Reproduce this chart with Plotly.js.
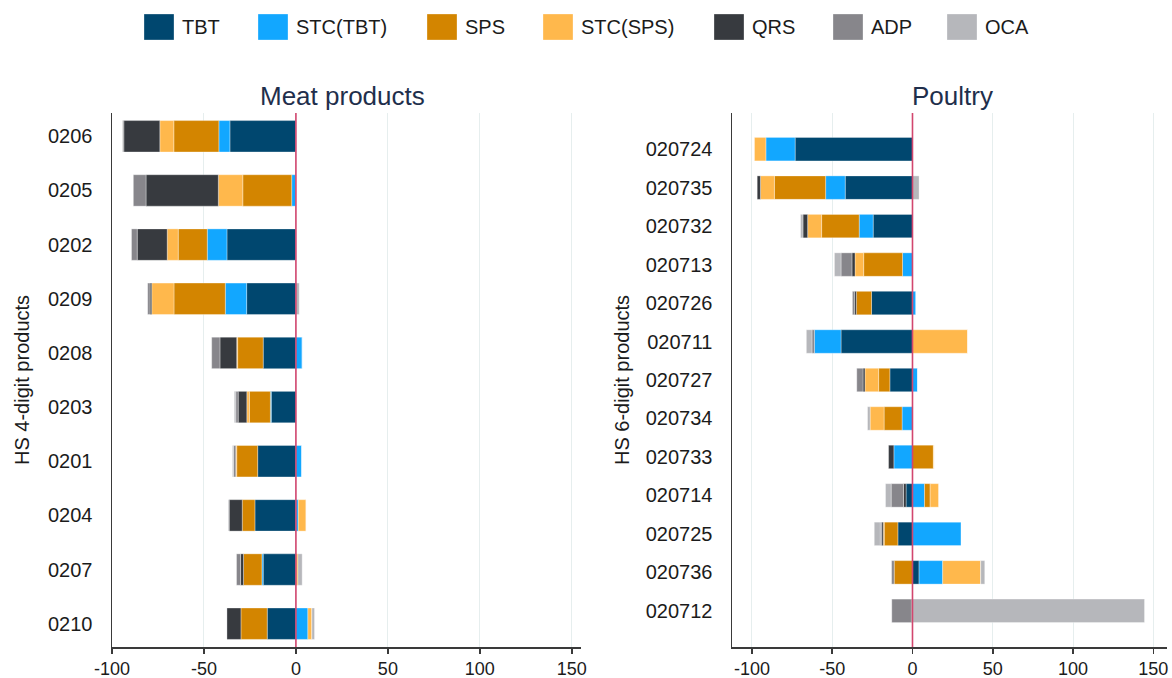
<!DOCTYPE html>
<html>
<head>
<meta charset="utf-8">
<script src="https://cdn.plot.ly/plotly-3.0.1.min.js"></script>
<style>
  html, body { margin: 0; padding: 0; background: #fff; }
  #chart { width: 1172px; height: 678px; }
</style>
</head>
<body>
<div id="chart"></div>
<script>
"use strict";

// measure names, in stacking order (outward from zero)
var series = ['TBT', 'STC(TBT)', 'SPS', 'STC(SPS)', 'QRS', 'ADP', 'OCA'];
var colors = ['#00476f', '#12a7ff', '#d38500', '#ffb84c', '#373a3f', '#87868b', '#b6b7bb'];

// left panel: HS 4-digit meat products
var meatProducts = ['0206', '0205', '0202', '0209', '0208', '0203', '0201', '0204', '0207', '0210'];
var meatTBT    = [-35.9, 0, -37.5, -26.8, -17.8, -13.4, -20.8, -22.3, -17.8, -15.6];
var meatSTCTBT = [-6.0, -2.3, -10.7, -11.6, 3.4, -0.5, 3.1, 1.3, -0.7, 6.5];
var meatSPS    = [-24.5, -26.6, -15.8, -27.9, -13.9, -11.4, -11.4, -6.9, -10.0, -14.3];
var meatSTCSPS = [-7.6, -13.3, -6.0, -12.1, -0.5, -1.4, -0.5, 4.2, 1.1, 2.2];
var meatQRS    = [-19.6, -39.3, -16.3, -0.9, -9.1, -4.7, 0, -7.1, -1.6, -7.6];
var meatADP    = [-0.6, -6.9, -3.1, -1.3, -4.5, -1.3, -1.2, 0, -2.2, 0];
var meatOCA    = [0, 0, 0, 1.8, 0, -0.8, -0.6, -0.5, 2.3, 1.4];

// right panel: HS 6-digit poultry products
var poultryProducts = ['020724', '020735', '020732', '020713', '020726', '020711', '020727',
                       '020734', '020733', '020714', '020725', '020736', '020712'];
var poultryTBT    = [-73.1, -41.9, -24.5, 0, -25.5, -44.5, -14.1, 0, 0, -4.0, -9.1, 4.1, 0];
var poultrySTCTBT = [-18.2, -12.2, -8.7, -6.2, 2.2, -16.6, 3.1, -6.5, -11.6, 7.5, 30.2, 14.7, 0];
var poultrySPS    = [0, -31.9, -23.4, -24.2, -9.5, 0, -7.0, -11.2, 13.0, 3.5, -8.5, -11.4, 0];
var poultrySTCSPS = [-7.1, -8.7, -8.7, -5.4, 0, 34.3, -8.5, -8.7, 0.5, 5.2, -0.6, 23.7, 0];
var poultryQRS    = [0, -2.0, -2.9, -1.9, -1.2, 0, -1.2, 0, -3.3, -1.6, -1.0, 0, -0.7];
var poultryADP    = [0, 0, 0, -6.8, -1.2, -1.5, -3.9, 0, 0, -7.7, -0.9, -1.6, -12.2];
var poultryOCA    = [0, 4.1, -1.5, -4.1, 0, -3.5, 0, -1.6, 0, -3.5, -3.7, 2.5, 144.5];

var meatValues = [meatTBT, meatSTCTBT, meatSPS, meatSTCSPS, meatQRS, meatADP, meatOCA];
var poultryValues = [poultryTBT, poultrySTCTBT, poultrySPS, poultrySTCSPS, poultryQRS, poultryADP, poultryOCA];

var xTicks = [-100, -50, 0, 50, 100, 150];

// page size and helpers to place things by pixel
var W = 1172, H = 678;
function px2x(p){ return p / W; }
function px2y(p){ return 1 - p / H; }

var FONT = '"Liberation Sans", Arial, sans-serif';
var TEXT = '#1b1b1b';

// build the traces for one panel
function panelTraces(cats, values, xa, ya, barw){
	var out = [];
	for(var i = 0; i < series.length; i++){
		out.push({
			type: 'bar',
			orientation: 'h',
			name: series[i],
			x: values[i],
			y: cats,
			xaxis: xa,
			yaxis: ya,
			width: barw,
			showlegend: false,
			hoverinfo: 'name+x+y',
			marker: { color: colors[i], line: { color: 'rgba(255,255,255,0.55)', width: 0.6 } }
		});
	}
	return out;
}

var data = panelTraces(meatProducts, meatValues, 'x', 'y', 0.58)
	.concat(panelTraces(poultryProducts, poultryValues, 'x2', 'y2', 0.61));

function xAxis(domain, range, anchor){
	return {
		domain: domain,
		range: range,
		anchor: anchor,
		tickvals: xTicks,
		ticktext: xTicks.map(String),
		ticks: 'outside',
		ticklen: 5,
		tickwidth: 1.5,
		tickcolor: '#3a3a3a',
		showline: true,
		linecolor: '#3a3a3a',
		linewidth: 1.5,
		showgrid: true,
		gridcolor: '#e6eeee',
		gridwidth: 1,
		zeroline: false,
		ticklabelstandoff: 0,
		tickfont: { family: FONT, size: 18, color: TEXT },
		fixedrange: true
	};
}

function yAxis(cats, range, anchor){
	return {
		domain: [px2y(647), px2y(113)],
		type: 'category',
		categoryorder: 'array',
		categoryarray: cats,
		range: range,
		anchor: anchor,
		ticks: '',
		showline: true,
		linecolor: '#3a3a3a',
		linewidth: 1.5,
		showgrid: false,
		zeroline: false,
		ticklabelstandoff: 14,
		tickfont: { family: FONT, size: 20, color: TEXT },
		fixedrange: true
	};
}

var shapes = [];
var annotations = [];

// red reference line at zero in both panels
[['x', 'y'], ['x2', 'y2']].forEach(function(ax){
	shapes.push({
		type: 'line', layer: 'above',
		xref: ax[0], yref: ax[1] + ' domain',
		x0: 0, x1: 0, y0: 0, y1: 1,
		line: { color: '#d2466e', width: 1.6 }
	});
});

// legend drawn by hand so the swatches can be the same size as the original
var legendLeft = [144, 258, 427, 543, 714, 833, 947];
series.forEach(function(name, i){
	shapes.push({
		type: 'rect', xref: 'paper', yref: 'paper',
		x0: px2x(legendLeft[i]), x1: px2x(legendLeft[i] + 30),
		y0: px2y(40), y1: px2y(14),
		fillcolor: colors[i],
		line: { color: 'rgba(255,255,255,0.5)', width: 0.6 }
	});
	annotations.push({
		xref: 'paper', yref: 'paper',
		x: px2x(legendLeft[i] + 36), y: px2y(27),
		xanchor: 'left', yanchor: 'middle',
		text: name, showarrow: false,
		font: { family: FONT, size: 20, color: TEXT }
	});
});

// panel titles
annotations.push({
	xref: 'paper', yref: 'paper', x: px2x(342), y: px2y(96),
	xanchor: 'center', yanchor: 'middle', showarrow: false,
	text: 'Meat products', font: { family: FONT, size: 26, color: '#1f2f4c' }
});
annotations.push({
	xref: 'paper', yref: 'paper', x: px2x(952), y: px2y(96),
	xanchor: 'center', yanchor: 'middle', showarrow: false,
	text: 'Poultry', font: { family: FONT, size: 26, color: '#1f2f4c' }
});

// y axis titles
annotations.push({
	xref: 'paper', yref: 'paper', x: px2x(22), y: px2y(380),
	xanchor: 'center', yanchor: 'middle', showarrow: false, textangle: -90,
	text: 'HS 4-digit products', font: { family: FONT, size: 20, color: TEXT }
});
annotations.push({
	xref: 'paper', yref: 'paper', x: px2x(622), y: px2y(380),
	xanchor: 'center', yanchor: 'middle', showarrow: false, textangle: -90,
	text: 'HS 6-digit products', font: { family: FONT, size: 20, color: TEXT }
});

var layout = {
	width: W,
	height: H,
	margin: { l: 0, r: 0, t: 0, b: 0 },
	paper_bgcolor: '#ffffff',
	plot_bgcolor: '#ffffff',
	barmode: 'relative',
	showlegend: false,
	font: { family: FONT, color: TEXT },
	xaxis: xAxis([px2x(112), px2x(581)], [-100, 155], 'y'),
	yaxis: yAxis(meatProducts, [9.43, -0.43], 'x'),
	xaxis2: xAxis([px2x(732), px2x(1167)], [-112.4, 158.5], 'y2'),
	yaxis2: yAxis(poultryProducts, [12.94, -0.94], 'x2'),
	shapes: shapes,
	annotations: annotations
};

Plotly.newPlot('chart', data, layout, { staticPlot: true, displayModeBar: false });
</script>
</body>
</html>
